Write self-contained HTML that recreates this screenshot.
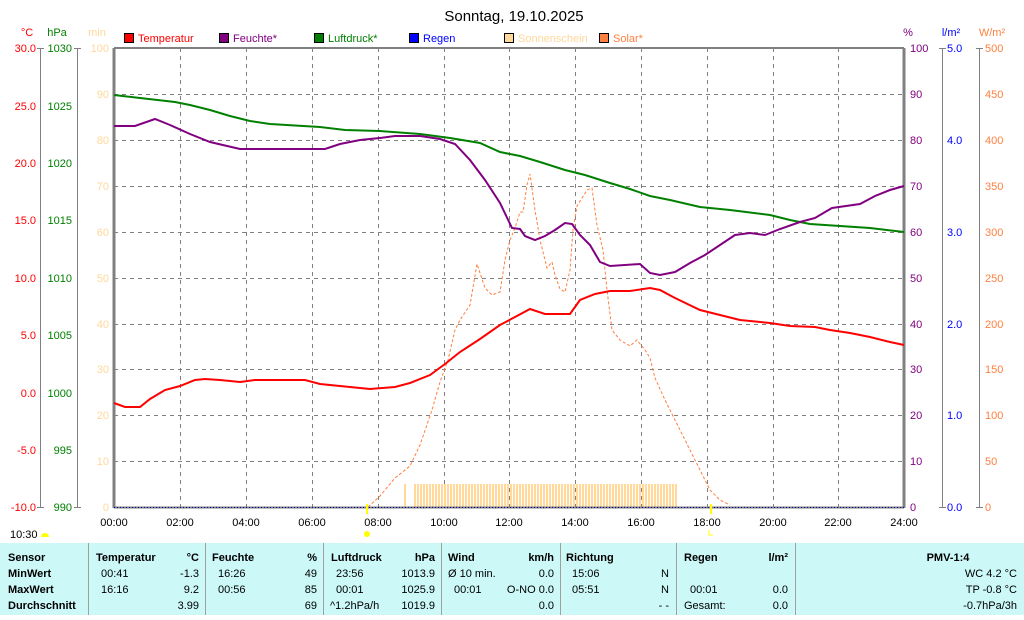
<!DOCTYPE html>
<html><head><meta charset="utf-8"><style>
body{margin:0;background:#fff;width:1024px;height:615px;overflow:hidden;font-family:"Liberation Sans",sans-serif}
svg text{font-family:"Liberation Sans",sans-serif}
</style></head><body>
<svg width="1024" height="615" viewBox="0 0 1024 615" xmlns="http://www.w3.org/2000/svg">
<defs>
<pattern id="sun" x="0" y="0" width="3" height="30" patternUnits="userSpaceOnUse"><rect x="0" y="0" width="2" height="30" fill="#ffd89a"/></pattern>
</defs>
<text x="514" y="21" font-size="15" text-anchor="middle" fill="#000">Sonntag, 19.10.2025</text>
<!-- legend -->
<g font-size="11">
<rect x="124.5" y="33.5" width="9" height="9" fill="#f00" stroke="#000"/><text x="138" y="42" fill="#f00">Temperatur</text>
<rect x="219.5" y="33.5" width="9" height="9" fill="#800080" stroke="#000"/><text x="233" y="42" fill="#800080">Feuchte*</text>
<rect x="314.5" y="33.5" width="9" height="9" fill="#008000" stroke="#000"/><text x="328" y="42" fill="#008000">Luftdruck*</text>
<rect x="409.5" y="33.5" width="9" height="9" fill="#00f" stroke="#000"/><text x="423" y="42" fill="#00f">Regen</text>
<rect x="504.5" y="33.5" width="9" height="9" fill="#ffd89a" stroke="#000"/><text x="518" y="42" fill="#ffd89a">Sonnenschein</text>
<rect x="599.5" y="33.5" width="9" height="9" fill="#ff8040" stroke="#000"/><text x="613" y="42" fill="#ff8040">Solar*</text>
</g>
<!-- axis units -->
<g font-size="11">
<text x="27" y="36" fill="#f00" text-anchor="middle">°C</text>
<text x="57" y="36" fill="#008000" text-anchor="middle">hPa</text>
<text x="97" y="36" fill="#ffd89a" text-anchor="middle">min</text>
<text x="908" y="36" fill="#800080" text-anchor="middle">%</text>
<text x="951" y="36" fill="#00f" text-anchor="middle">l/m²</text>
<text x="992" y="36" fill="#ff8040" text-anchor="middle">W/m²</text>
</g>
<!-- grid -->
<g stroke="#808080" stroke-dasharray="4,4" stroke-width="1">
<line x1="180.5" y1="48" x2="180.5" y2="507"/><line x1="246.5" y1="48" x2="246.5" y2="507"/><line x1="312.5" y1="48" x2="312.5" y2="507"/><line x1="378.5" y1="48" x2="378.5" y2="507"/><line x1="444.5" y1="48" x2="444.5" y2="507"/><line x1="509.5" y1="48" x2="509.5" y2="507"/><line x1="575.5" y1="48" x2="575.5" y2="507"/><line x1="641.5" y1="48" x2="641.5" y2="507"/><line x1="707.5" y1="48" x2="707.5" y2="507"/><line x1="773.5" y1="48" x2="773.5" y2="507"/><line x1="838.5" y1="48" x2="838.5" y2="507"/>
<line x1="114" y1="94.5" x2="904" y2="94.5"/><line x1="114" y1="140.5" x2="904" y2="140.5"/><line x1="114" y1="186.5" x2="904" y2="186.5"/><line x1="114" y1="232.5" x2="904" y2="232.5"/><line x1="114" y1="278.5" x2="904" y2="278.5"/><line x1="114" y1="324.5" x2="904" y2="324.5"/><line x1="114" y1="369.5" x2="904" y2="369.5"/><line x1="114" y1="415.5" x2="904" y2="415.5"/><line x1="114" y1="461.5" x2="904" y2="461.5"/>
</g>
<!-- sunshine bars -->
<rect x="404" y="484" width="2" height="23" fill="#ffd89a"/>
<rect x="413" y="484" width="265" height="23" fill="url(#sun)"/>
<!-- frame -->
<g stroke="#808080" fill="none">
<line x1="114" y1="48" x2="904" y2="48" stroke-width="2"/>
<line x1="114" y1="48" x2="114" y2="508" stroke-width="3"/>
<line x1="904" y1="48" x2="904" y2="508" stroke-width="3"/>
<line x1="114" y1="507.5" x2="904" y2="507.5" stroke-width="2"/>
<line x1="40.5" y1="48" x2="40.5" y2="507" /><line x1="37" y1="48.5" x2="44" y2="48.5"/><line x1="37" y1="507.5" x2="44" y2="507.5"/>
<line x1="77.5" y1="48" x2="77.5" y2="507" /><line x1="74" y1="48.5" x2="81" y2="48.5"/><line x1="74" y1="507.5" x2="81" y2="507.5"/>
<line x1="942.5" y1="48" x2="942.5" y2="507"/><line x1="939" y1="48.5" x2="946" y2="48.5"/><line x1="939" y1="507.5" x2="946" y2="507.5"/>
<line x1="979.5" y1="48" x2="979.5" y2="507"/><line x1="976" y1="48.5" x2="983" y2="48.5"/><line x1="976" y1="507.5" x2="983" y2="507.5"/>
</g>
<line x1="114" y1="507.5" x2="904" y2="507.5" stroke="#00a" stroke-width="1" stroke-dasharray="1,2"/>
<!-- left labels -->
<g font-size="11" text-anchor="end">
<g fill="#f00">
<text x="36" y="52">30.0</text><text x="36" y="110">25.0</text><text x="36" y="167">20.0</text><text x="36" y="224">15.0</text><text x="36" y="282">10.0</text><text x="36" y="339">5.0</text><text x="36" y="397">0.0</text><text x="36" y="454">-5.0</text><text x="36" y="511">-10.0</text>
</g>
<g fill="#008000">
<text x="72" y="52">1030</text><text x="72" y="110">1025</text><text x="72" y="167">1020</text><text x="72" y="224">1015</text><text x="72" y="282">1010</text><text x="72" y="339">1005</text><text x="72" y="397">1000</text><text x="72" y="454">995</text><text x="72" y="511">990</text>
</g>
<g fill="#ffd89a">
<text x="109" y="52">100</text><text x="109" y="98">90</text><text x="109" y="144">80</text><text x="109" y="190">70</text><text x="109" y="236">60</text><text x="109" y="282">50</text><text x="109" y="328">40</text><text x="109" y="373">30</text><text x="109" y="419">20</text><text x="109" y="465">10</text><text x="109" y="511">0</text>
</g>
</g>
<!-- right labels -->
<g font-size="11">
<g fill="#800080">
<text x="910" y="52">100</text><text x="910" y="98">90</text><text x="910" y="144">80</text><text x="910" y="190">70</text><text x="910" y="236">60</text><text x="910" y="282">50</text><text x="910" y="328">40</text><text x="910" y="373">30</text><text x="910" y="419">20</text><text x="910" y="465">10</text><text x="910" y="511">0</text>
</g>
<g fill="#00f"><text x="947" y="52">5.0</text><text x="947" y="144">4.0</text><text x="947" y="236">3.0</text><text x="947" y="328">2.0</text><text x="947" y="419">1.0</text><text x="947" y="511">0.0</text></g>
<g fill="#ff8040"><text x="985" y="52">500</text><text x="985" y="98">450</text><text x="985" y="144">400</text><text x="985" y="190">350</text><text x="985" y="236">300</text><text x="985" y="282">250</text><text x="985" y="328">200</text><text x="985" y="373">150</text><text x="985" y="419">100</text><text x="985" y="465">50</text><text x="985" y="511">0</text></g>
</g>
<!-- x labels -->
<g font-size="11" text-anchor="middle" fill="#000">
<text x="114" y="526">00:00</text><text x="180" y="526">02:00</text><text x="246" y="526">04:00</text><text x="312" y="526">06:00</text><text x="378" y="526">08:00</text><text x="444" y="526">10:00</text><text x="509" y="526">12:00</text><text x="575" y="526">14:00</text><text x="641" y="526">16:00</text><text x="707" y="526">18:00</text><text x="773" y="526">20:00</text><text x="838" y="526">22:00</text><text x="904" y="526">24:00</text>
</g>
<text x="10" y="538" font-size="11">10:30</text>
<path d="M41 537 a4 4 0 0 1 8 0 z" fill="#ff0"/>
<line x1="367" y1="504" x2="367" y2="514" stroke="#ff0" stroke-width="2"/>
<circle cx="367" cy="534" r="3" fill="#ff0"/>
<line x1="711" y1="504" x2="711" y2="514" stroke="#ff0" stroke-width="2"/>
<path d="M709 530 v5 h4" stroke="#ff0" fill="none"/>
<!-- series -->
<polyline fill="none" stroke="#ff8040" stroke-width="1" stroke-dasharray="3,2" points="368,507 380,496 395,478 410,466 420,445 432,410 440,382 448,360 455,330 460,320 470,305 477,264 485,288 492,295 500,292 505,260 510,240 515,228 520,212 523,212 527,185 530,174 535,210 540,240 547,268 552,262 555,275 560,289 565,292 570,270 573,230 577,206 582,198 587,190 592,188 597,225 603,250 607,290 612,330 620,340 630,346 637,340 645,350 650,358 655,378 665,400 680,430 695,460 710,490 720,500 730,505"/>
<polyline fill="none" stroke="#008000" stroke-width="2" points="114,95 140,98 175,102 190,105 210,110 230,116 250,121 270,124 320,127 345,130 380,131 420,134 450,138 480,143 500,152 520,156 540,162 565,170 585,175 610,183 630,189 650,196 670,200 700,207 730,210 770,215 790,220 810,224 840,226 870,228 904,232"/>
<polyline fill="none" stroke="#800080" stroke-width="2" points="114,126 135,126 155,119 170,125 190,134 210,142 240,149 270,149 325,149 340,144 360,140 380,138 395,136 420,136 440,139 455,144 470,160 485,180 500,203 512,228 520,229 525,236 535,240 545,236 555,230 565,223 572,224 580,235 590,245 600,262 610,266 640,264 650,273 660,275 675,272 690,263 705,255 720,245 735,235 750,233 765,235 780,229 800,222 815,218 832,208 860,204 875,196 890,190 904,186"/>
<polyline fill="none" stroke="#f00" stroke-width="2" points="114,403 125,407 140,407 150,399 165,390 180,386 195,380 205,379 220,380 240,382 255,380 305,380 320,384 370,389 395,387 410,383 430,375 445,364 460,352 480,339 500,325 515,317 530,309 545,314 570,314 580,300 595,294 610,291 630,291 650,288 660,290 675,298 700,310 720,315 740,320 770,323 790,326 815,327 830,330 850,333 870,337 890,342 904,345"/>
<!-- table -->
<rect x="0" y="543" width="1024" height="72" fill="#ccf8f8"/>
<g stroke="#a0a0a0" stroke-width="1">
<line x1="88.5" y1="543" x2="88.5" y2="615"/><line x1="205.5" y1="543" x2="205.5" y2="615"/><line x1="323.5" y1="543" x2="323.5" y2="615"/><line x1="441.5" y1="543" x2="441.5" y2="615"/><line x1="560.5" y1="543" x2="560.5" y2="615"/><line x1="676.5" y1="543" x2="676.5" y2="615"/><line x1="795.5" y1="543" x2="795.5" y2="615"/>
</g>
<g font-size="11" fill="#000">
<g font-weight="bold"><text x="8" y="561">Sensor</text><text x="8" y="577">MinWert</text><text x="8" y="593">MaxWert</text><text x="8" y="609">Durchschnitt</text>
<text x="96" y="561">Temperatur</text><text x="199" y="561" text-anchor="end">°C</text>
<text x="212" y="561">Feuchte</text><text x="317" y="561" text-anchor="end">%</text>
<text x="331" y="561">Luftdruck</text><text x="435" y="561" text-anchor="end">hPa</text>
<text x="448" y="561">Wind</text><text x="554" y="561" text-anchor="end">km/h</text>
<text x="566" y="561">Richtung</text>
<text x="684" y="561">Regen</text><text x="788" y="561" text-anchor="end">l/m²</text>
<text x="948" y="561" text-anchor="middle">PMV-1:4</text></g>
<text x="101" y="577">00:41</text><text x="199" y="577" text-anchor="end">-1.3</text>
<text x="101" y="593">16:16</text><text x="199" y="593" text-anchor="end">9.2</text>
<text x="199" y="609" text-anchor="end">3.99</text>
<text x="218" y="577">16:26</text><text x="317" y="577" text-anchor="end">49</text>
<text x="218" y="593">00:56</text><text x="317" y="593" text-anchor="end">85</text>
<text x="317" y="609" text-anchor="end">69</text>
<text x="336" y="577">23:56</text><text x="435" y="577" text-anchor="end">1013.9</text>
<text x="336" y="593">00:01</text><text x="435" y="593" text-anchor="end">1025.9</text>
<text x="330" y="609">^1.2hPa/h</text><text x="435" y="609" text-anchor="end">1019.9</text>
<text x="448" y="577">Ø 10 min.</text><text x="554" y="577" text-anchor="end">0.0</text>
<text x="454" y="593">00:01</text><text x="554" y="593" text-anchor="end">O-NO 0.0</text>
<text x="554" y="609" text-anchor="end">0.0</text>
<text x="572" y="577">15:06</text><text x="669" y="577" text-anchor="end">N</text>
<text x="572" y="593">05:51</text><text x="669" y="593" text-anchor="end">N</text>
<text x="669" y="609" text-anchor="end">- -</text>
<text x="690" y="593">00:01</text><text x="788" y="593" text-anchor="end">0.0</text>
<text x="684" y="609">Gesamt:</text><text x="788" y="609" text-anchor="end">0.0</text>
<text x="1017" y="577" text-anchor="end">WC 4.2 °C</text>
<text x="1017" y="593" text-anchor="end">TP -0.8 °C</text>
<text x="1017" y="609" text-anchor="end">-0.7hPa/3h</text>
</g>
</svg>
</body></html>
